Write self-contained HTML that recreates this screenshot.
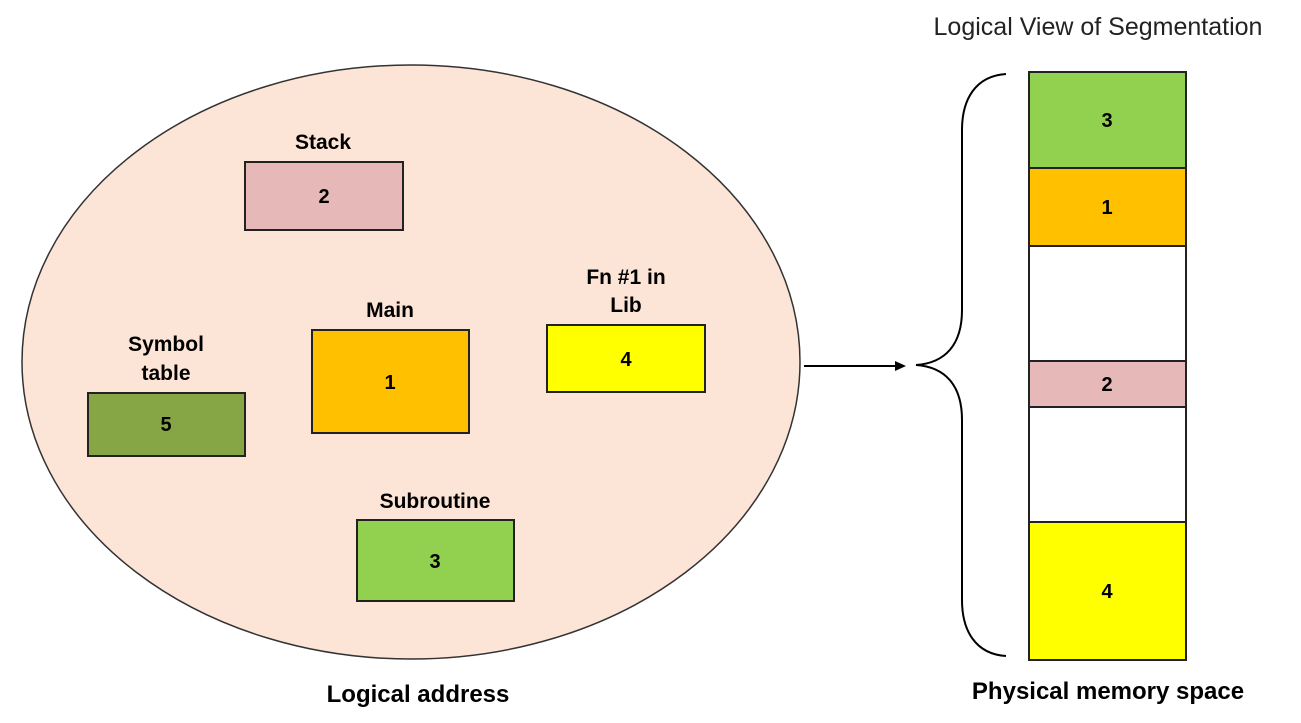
<!DOCTYPE html>
<html><head><style>
body{margin:0;background:#fff;}
svg text{font-family:"Liberation Sans",sans-serif;}
</style></head><body>
<svg width="1301" height="718" xmlns="http://www.w3.org/2000/svg">
<ellipse cx="411" cy="362" rx="389" ry="297" fill="#fce4d6" stroke="#333" stroke-width="1.5"/>
<g stroke="#222" stroke-width="2">
<rect x="245" y="162" width="158" height="68" fill="#e6b8b7"/>
<rect x="312" y="330" width="157" height="103" fill="#ffc000"/>
<rect x="547" y="325" width="158" height="67" fill="#ffff00"/>
<rect x="88" y="393" width="157" height="63" fill="#86a545"/>
<rect x="357" y="520" width="157" height="81" fill="#92d050"/>
<rect x="1029" y="72" width="157" height="96" fill="#92d050"/>
<rect x="1029" y="168" width="157" height="78" fill="#ffc000"/>
<rect x="1029" y="246" width="157" height="115" fill="#fff"/>
<rect x="1029" y="361" width="157" height="46" fill="#e6b8b7"/>
<rect x="1029" y="407" width="157" height="115" fill="#fff"/>
<rect x="1029" y="522" width="157" height="138" fill="#ffff00"/>
</g>
<g font-weight="bold" font-size="20" text-anchor="middle">
<text x="324" y="203">2</text>
<text x="390" y="389">1</text>
<text x="626" y="366">4</text>
<text x="166" y="431">5</text>
<text x="435" y="568">3</text>
<text x="1107" y="127">3</text>
<text x="1107" y="214">1</text>
<text x="1107" y="391">2</text>
<text x="1107" y="598">4</text>
<g font-size="21">
<text x="323" y="149">Stack</text>
<text x="390" y="317">Main</text>
<text x="626" y="284">Fn #1 in</text>
<text x="626" y="312">Lib</text>
<text x="166" y="351">Symbol</text>
<text x="166" y="380">table</text>
<text x="435" y="508">Subroutine</text>
</g>
<text x="418" y="702" font-size="24">Logical address</text>
<text x="1108" y="699" font-size="24">Physical memory space</text>
</g>
<text x="1098" y="35" font-size="25" text-anchor="middle" fill="#222">Logical View of Segmentation</text>
<line x1="804" y1="366" x2="896" y2="366" stroke="#000" stroke-width="2"/>
<polygon points="906,366 895,361 895,371" fill="#000"/>
<path d="M1006,74 C975,76 962,100 962,130 L962,310 C962,345 945,363 916,365 C945,367 962,385 962,420 L962,600 C962,630 975,654 1006,656" fill="none" stroke="#000" stroke-width="2"/>
</svg>
</body></html>
